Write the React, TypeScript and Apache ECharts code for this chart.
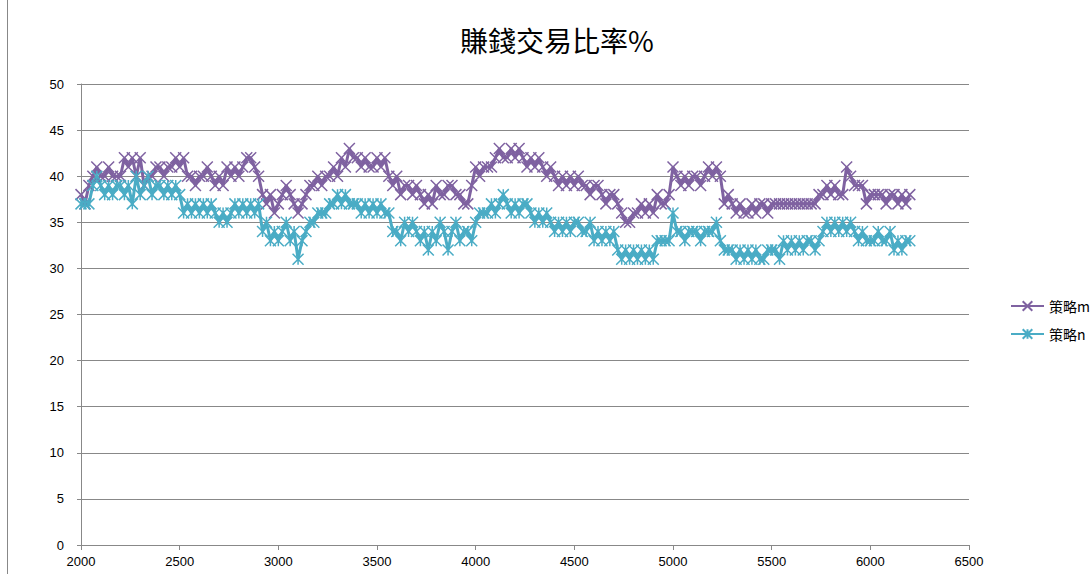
import React, { useEffect, useRef } from "react";
import * as echarts from "echarts";

const TITLE = "賺錢交易比率%";
const SERIES_NAMES = ["策略m", "策略n"];
const X_START = 2000;
const X_STEP = 20;

const mValues = [
  38, 37, 39, 40, 41, 40, 40, 41, 40, 40,
  40, 42, 41, 42, 40, 42, 39, 40, 40, 41,
  41, 40, 41, 41, 42, 41, 42, 40, 40, 39,
  40, 40, 41, 40, 39, 40, 39, 41, 40, 41,
  40, 41, 42, 42, 41, 40, 38, 37, 38, 36,
  37, 38, 39, 38, 37, 36, 37, 38, 39, 39,
  40, 39, 40, 40, 41, 40, 42, 41, 43, 42,
  42, 41, 42, 41, 41, 42, 41, 42, 40, 39,
  40, 38, 39, 39, 38, 39, 38, 37, 38, 37,
  39, 38, 38, 39, 39, 38, 38, 37, 37, 39,
  41, 40, 41, 41, 41, 42, 43, 42, 42, 43,
  42, 43, 42, 41, 42, 41, 42, 41, 40, 41,
  40, 39, 40, 39, 40, 39, 40, 39, 39, 38,
  39, 39, 38, 37, 38, 38, 37, 36, 35, 35,
  36, 36, 37, 36, 37, 36, 38, 37, 37, 38,
  41, 40, 39, 40, 39, 40, 40, 39, 40, 41,
  40, 41, 40, 37, 38, 37, 36, 37, 36, 36,
  37, 36, 37, 37, 36, 37, 37, 37, 37, 37,
  37, 37, 37, 37, 37, 37, 37, 38, 38, 39,
  38, 39, 38, 38, 41, 40, 39, 39, 39, 37,
  38, 38, 38, 38, 37, 38, 38, 37, 38, 37, 38,
];

const nValues = [
  37, 37, 37, 39, 40, 39, 38, 39, 38, 39,
  39, 38, 39, 37, 40, 38, 39, 40, 38, 39,
  39, 38, 39, 38, 39, 38, 36, 37, 36, 37,
  36, 37, 36, 37, 36, 35, 36, 35, 36, 37,
  36, 37, 36, 37, 36, 37, 34, 35, 33, 34,
  33, 34, 35, 33, 34, 31, 33, 34, 35, 35,
  36, 36, 36, 37, 37, 38, 37, 38, 37, 37,
  37, 36, 37, 36, 37, 36, 37, 36, 36, 34,
  34, 33, 35, 34, 35, 34, 33, 34, 32, 34,
  33, 35, 34, 32, 34, 35, 33, 34, 34, 33,
  35, 36, 36, 36, 37, 36, 37, 38, 37, 36,
  37, 36, 37, 37, 36, 35, 36, 35, 36, 35,
  34, 35, 34, 35, 34, 35, 35, 34, 34, 35,
  33, 34, 33, 34, 33, 34, 32, 31, 32, 31,
  32, 31, 32, 31, 32, 31, 33, 33, 33, 33,
  36, 34, 34, 33, 34, 34, 34, 33, 34, 34,
  34, 35, 33, 32, 32, 32, 31, 32, 31, 32,
  31, 32, 31, 31, 32, 32, 32, 31, 33, 32,
  33, 32, 33, 32, 33, 33, 32, 33, 34, 35,
  34, 35, 34, 35, 34, 35, 34, 33, 34, 33,
  33, 33, 34, 33, 33, 34, 32, 33, 32, 33, 33,
];

const COLORS = ["#7f62a1", "#4aacc5"];
const SYMBOLS = [
  "path://M0,0L10,10M10,0L0,10",
  "path://M0,0L10,10M10,0L0,10M5,0L5,10",
];

function toPairs(values: number[]) {
  return values.map((v, i) => [X_START + i * X_STEP, v]);
}

export default function App() {
  const ref = useRef<HTMLDivElement>(null);
  useEffect(() => {
    if (!ref.current) return;
    const chart = echarts.init(ref.current, undefined, { renderer: "svg" });
    const seriesData = [mValues, nValues];
    chart.setOption({
      animation: false,
      backgroundColor: "#ffffff",
      title: {
        text: TITLE,
        left: 455,
        top: 21,
        textStyle: {
          fontFamily: "Noto Sans CJK TC",
          fontSize: 28,
          fontWeight: "normal",
          color: "#000000",
        },
      },
      legend: {
        orient: "vertical",
        left: 1005,
        top: 294,
        itemWidth: 33,
        itemHeight: 12,
        itemGap: 14,
        textStyle: {
          fontFamily: "Noto Sans CJK TC",
          fontSize: 14,
          color: "#000000",
        },
        data: SERIES_NAMES,
      },
      grid: { left: 81, right: 122, top: 84, bottom: 29, containLabel: false },
      xAxis: {
        type: "value",
        min: 2000,
        max: 6500,
        interval: 500,
        axisLine: { show: true, lineStyle: { color: "#888888", width: 1 } },
        axisTick: { show: true, length: 5, lineStyle: { color: "#888888" } },
        axisLabel: {
          margin: 10,
          fontFamily: "Liberation Sans",
          fontSize: 13,
          color: "#000000",
          formatter: (v: number) => String(v),
        },
        splitLine: { show: false },
      },
      yAxis: {
        type: "value",
        min: 0,
        max: 50,
        interval: 5,
        axisLine: { show: true, lineStyle: { color: "#888888", width: 1 } },
        axisTick: { show: true, length: 4, lineStyle: { color: "#888888" } },
        axisLabel: {
          margin: 17,
          fontFamily: "Liberation Sans",
          fontSize: 13,
          color: "#000000",
        },
        splitLine: { show: true, lineStyle: { color: "#888888", width: 1 } },
      },
      series: SERIES_NAMES.map((name, i) => ({
        name,
        type: "line",
        data: toPairs(seriesData[i]),
        symbol: SYMBOLS[i],
        symbolSize: 11,
        showAllSymbol: true,
        color: COLORS[i],
        lineStyle: { color: COLORS[i], width: 3 },
        itemStyle: { color: COLORS[i], borderColor: COLORS[i], borderWidth: 1.5 },
        emphasis: { disabled: true },
      })),
      graphic: [
        {
          type: "line",
          shape: { x1: 7.5, y1: 0, x2: 7.5, y2: 574 },
          style: { stroke: "#888888", lineWidth: 1 },
          silent: true,
        },
      ],
    });
    return () => chart.dispose();
  }, []);
  return (
    <div
      ref={ref}
      style={{ position: "fixed", left: 0, top: 0, width: 1091, height: 574 }}
    />
  );
}
